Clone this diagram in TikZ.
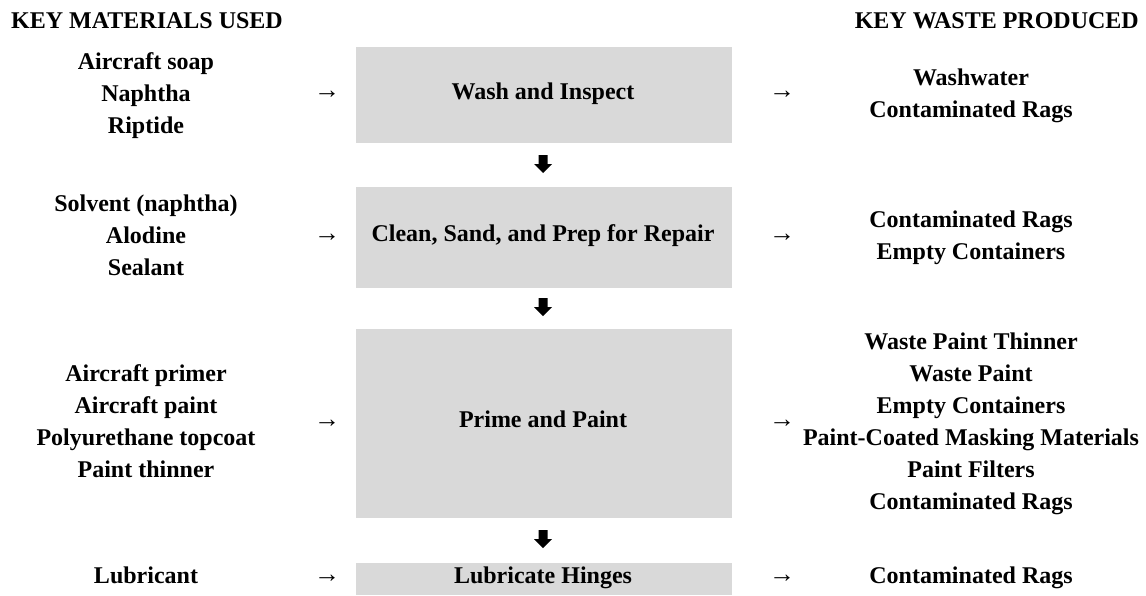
\documentclass[tikz,border=0pt]{standalone}
\usepackage{fontspec}
\setmainfont{Liberation Serif}
\definecolor{boxgray}{HTML}{D9D9D9}
\begin{document}
\begin{tikzpicture}[x=1pt,y=1pt,
  lbl/.style={font=\fontsize{24}{32}\selectfont\bfseries, align=center, inner sep=0pt,
              execute at begin node=\strut, execute at end node=\strut},
  head/.style={font=\fontsize{24}{32}\selectfont\bfseries, inner sep=0pt, anchor=base},
  stage/.style={fill=boxgray, draw=none},
  flowarrow/.style={font=\fontsize{26}{32}\selectfont\bfseries, inner sep=0pt},
  dnarrow/.style={fill=black}
]
\useasboundingbox (0,0) rectangle (1146,-595);

% column headings
\node[head, anchor=base west] (hmat) at (11,-28) {KEY MATERIALS USED};
\node[head, anchor=base east] (hwaste) at (1139,-28) {KEY WASTE PRODUCED};

% process stages (grey panels)
\fill[stage] (356,-47) rectangle (732,-143);
\fill[stage] (356,-187) rectangle (732,-288);
\fill[stage] (356,-329) rectangle (732,-518);
\fill[stage] (356,-563) rectangle (732,-595);
\node[lbl] (s1) at (543,-93) {Wash and Inspect};
\node[lbl] (s2) at (543,-235.5) {Clean, Sand, and Prep for Repair};
\node[lbl] (s3) at (543,-421.5) {Prime and Paint};
\node[lbl] (s4) at (543,-577) {Lubricate Hinges};

% materials used
\node[lbl] (m1) at (146,-98) {Aircraft soap\\Naphtha\\Riptide};
\node[lbl] (m2) at (146,-240) {Solvent (naphtha)\\Alodine\\Sealant};
\node[lbl] (m3) at (146,-426) {Aircraft primer\\Aircraft paint\\Polyurethane topcoat\\Paint thinner};
\node[lbl] (m4) at (146,-577) {Lubricant};

% waste produced
\node[lbl] (w1) at (971,-98) {Washwater\\Contaminated Rags};
\node[lbl] (w2) at (971,-240) {Contaminated Rags\\Empty Containers};
\node[lbl] (w3) at (971,-426) {Waste Paint Thinner\\Waste Paint\\Empty Containers\\Paint-Coated Masking Materials\\Paint Filters\\Contaminated Rags};
\node[lbl] (w4) at (971,-577) {Contaminated Rags};

% inflow and outflow arrows
\foreach \y [count=\i] in {95,237.5,423.5,579}{
  \node[flowarrow] (in\i) at (327,-\y) {→};
  \node[flowarrow] (out\i) at (782,-\y) {→};
}

% downward arrows between stages
\foreach \y [count=\i] in {164,307,539}{
  \coordinate (d\i) at (543,-\y);
  \fill[dnarrow] ([shift={(-4.5,9)}]d\i) -- ++(9,0) -- ++(0,-9) -- ++(4.5,0)
     -- ([shift={(0,-9)}]d\i) -- ([shift={(-9,0)}]d\i) -- ++(4.5,0) -- cycle;
}
\end{tikzpicture}
\end{document}
